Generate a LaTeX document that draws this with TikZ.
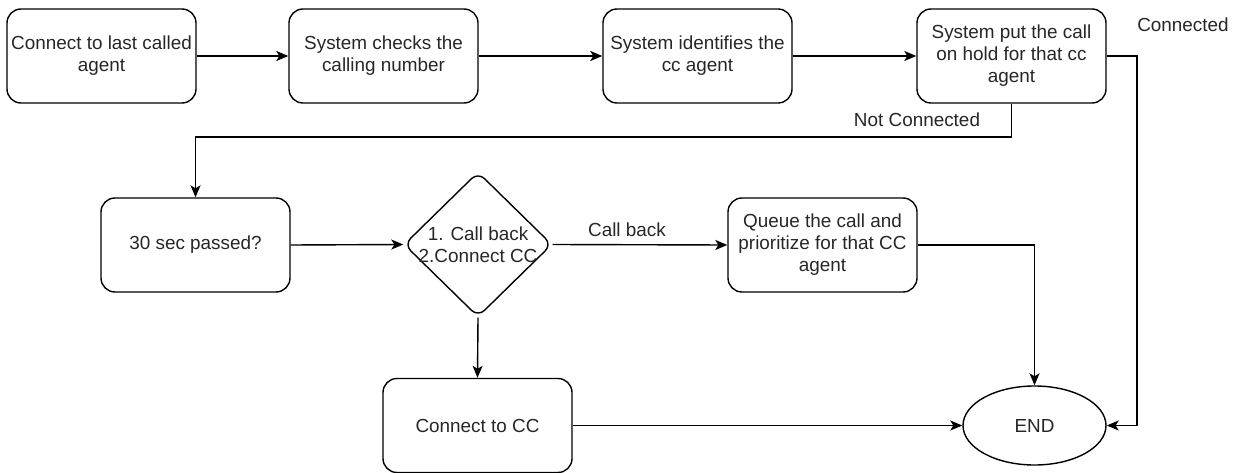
\documentclass[tikz,border=0pt]{standalone}
\usepackage{fontspec}
\setmainfont{Liberation Sans}
\usetikzlibrary{arrows.meta,shapes.geometric}

\tikzset{
  every node/.style={font=\fontsize{18.9}{22}\selectfont, text=black!85},
  stepbox/.style={draw, line width=1.4pt, rounded corners=14pt, align=center,
    minimum width=189pt, minimum height=94pt, inner sep=0pt},
  choice/.style={draw, diamond, line width=1.4pt, rounded corners=9pt,
    minimum width=148pt, minimum height=145pt, inner sep=0pt},
  terminal/.style={draw, ellipse, line width=1.4pt, minimum width=143pt,
    minimum height=79pt, inner sep=0pt},
  flow/.style={draw, line width=1.4pt, -{Stealth[length=12pt,width=10pt,inset=3pt]}},
  edgelabel/.style={inner sep=0pt}
}

\begin{document}
\begin{tikzpicture}[x=1pt,y=-1pt]
  \useasboundingbox (0,0) rectangle (1242,473);

  % process steps
  \node[stepbox] (n1) at (101.5,56) {Connect to last called\\agent};
  \node[stepbox] (n2) at (383.5,56) {System checks the\\calling number};
  \node[stepbox] (n3) at (697.5,56) {System identifies the\\cc agent};
  \node[stepbox] (n4) at (1011.5,56) {System put the call\\on hold for that cc\\agent};
  \node[stepbox] (n5) at (195.5,245) {30 sec passed?};
  \node[choice] (dia) at (478,244.5) {};
  \node[align=center, inner sep=0pt] (diatext) at (478,244.5) {1. Call back\\2.Connect CC};
  \node[stepbox] (n7) at (822.5,245) {Queue the call and\\prioritize for that CC\\agent};
  \node[stepbox] (n8) at (477.5,425.5) {Connect to CC};
  \node[terminal] (end) at (1034.5,425.5) {END};

  % routing points
  \coordinate (cr) at (1137,56);
  \coordinate (nc) at (1011.5,137);

  % connectors
  \draw[flow] (n1) -- (n2);
  \draw[flow] (n2) -- (n3);
  \draw[flow] (n3) -- (n4);
  \draw[flow] (n4.east) -- (cr) |- (end.east);
  \draw[flow] (n4.south) -- (nc) -| (n5.north);
  \draw[flow] (n5.east) -- (dia.west);
  \draw[flow] (dia.east) -- (n7.west);
  \draw[flow] (dia.south) -- (n8.north);
  \draw[flow] (n7.east) -| (end.north);
  \draw[flow] (n8.east) -- (end.west);

  % connector labels
  \node[edgelabel] (lconn) at (1183,25) {Connected};
  \node[edgelabel] (lnot) at (917,120) {Not Connected};
  \node[edgelabel] (lcb) at (627,230) {Call back};
\end{tikzpicture}
\end{document}
